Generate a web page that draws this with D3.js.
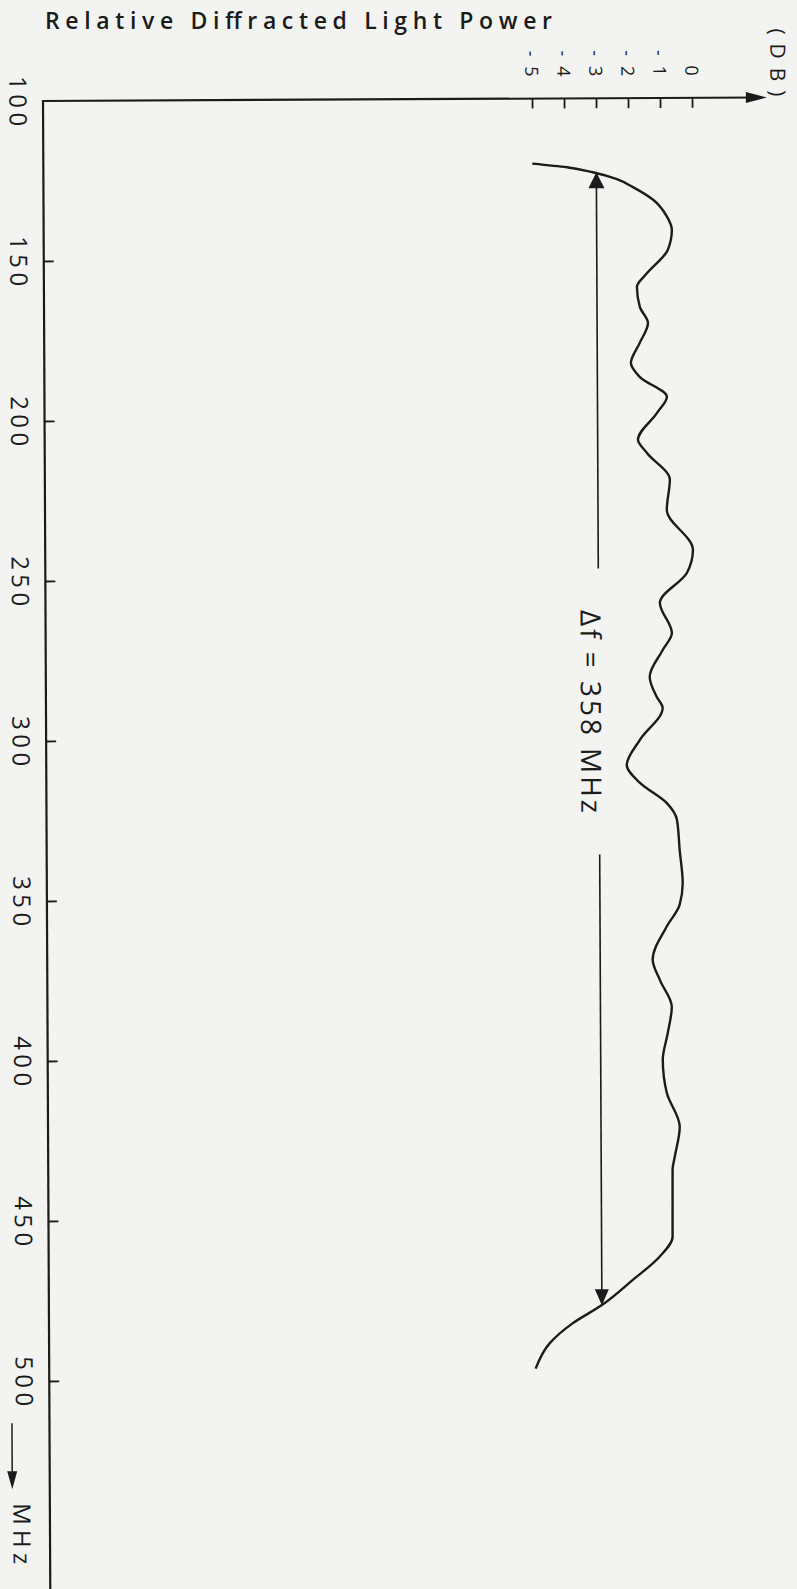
<!DOCTYPE html>
<html>
<head>
<meta charset="utf-8">
<script src="https://cdn.jsdelivr.net/npm/d3@7"></script>
<style>
  body { margin: 0; background: #f3f3f1; }
  svg { display: block; }
  text { font-family: "Open Sans", sans-serif; fill: #1b1b1b; }
</style>
</head>
<body>
<div id="chart-container"></div>
<script>

// values (frequency in MHz, power in dB)
let freq_mhz = [120.3, 121.5, 123.1, 125.3, 127.8, 131.8, 137.1, 141.2, 147.5, 154.7,
                159.0, 165.3, 170.3, 176.5, 182.8, 187.2, 193.4, 198.4, 206.8, 210.9,
                219.3, 228.7, 241.2, 248.4, 257.8, 267.2, 272.5, 280.9, 287.2, 290.6,
                300.6, 308.4, 314.0, 320.3, 325.6, 335.0, 345.3, 352.2, 359.0, 369.3,
                375.6, 384.0, 392.2, 400.6, 410.9, 421.5, 430.9, 434.9, 455.9, 462.1,
                469.3, 477.2, 482.8, 489.0, 496.9]
let power_db = [-5.00, -3.92, -3.11, -2.36, -1.86, -1.23, -0.80, -0.65, -0.78, -1.43,
                -1.75, -1.66, -1.41, -1.67, -1.95, -1.67, -0.83, -1.14, -1.74, -1.46,
                -0.75, -0.85, -0.04, -0.23, -1.08, -0.71, -1.00, -1.41, -1.19, -1.01,
                -1.73, -2.14, -1.73, -0.90, -0.58, -0.50, -0.41, -0.51, -0.92, -1.36,
                -1.14, -0.77, -0.90, -1.06, -0.94, -0.54, -0.70, -0.77, -0.78, -1.19,
                -2.03, -3.01, -3.92, -4.64, -5.08]

let freq_ticks = [100, 150, 200, 250, 300, 350, 400, 450, 500]
let db_ticks = [-5, -4, -3, -2, -1, 0]
let db_tick_labels = ["-5", "-4", "-3", "-2", "-1", "0"]

// -3 dB band marker
let band_edges_mhz = [123.1, 477.2]
let band_level_db = -3
let band_label = "Δf = 358 MHz"
let band_label_mhz = 291.6

let title_text = "Relative Diffracted Light Power"
let db_unit = "(DB)"
let freq_unit = "MHz"

let data = freq_mhz.map(function(f, i){ return {f: f, db: power_db[i]} })

let svgWidth = 797
let svgHeight = 1589
let origin = {x: 43, y: 101}
let ink = "#1b1b1b"

let x = d3.scaleLinear().domain([-5, 0]).range([532, 692])
let y = d3.scaleLinear().domain([100, 500]).range([101, 1381])

let svg = d3.select("#chart-container")
    .append("svg")
        .attr("width", svgWidth)
        .attr("height", svgHeight)

svg.append("rect")
    .attr("width", svgWidth)
    .attr("height", svgHeight)
    .attr("fill", "#f3f3f1")

//TITLE
svg.append("text")
    .attr("x", 45)
    .attr("y", 29)
    .attr("font-size", 23)
    .attr("font-weight", 600)
    .attr("textLength", 507)
    .attr("lengthAdjust", "spacing")
    .text(title_text)

// the scan is tilted a little, so the whole plot is too
let g = svg.append("g")
    .attr("transform", `rotate(-0.28, ${origin.x}, ${origin.y})`)

//FREQUENCY AXIS (vertical)
g.append("line")
    .attr("x1", origin.x).attr("x2", origin.x)
    .attr("y1", origin.y - 1).attr("y2", svgHeight + 20)
    .attr("stroke", ink)
    .attr("stroke-width", 2.2)

g.append("g")
    .attr("transform", `translate(${origin.x},0)`)
    .call(d3.axisRight(y).tickValues(freq_ticks.slice(1)).tickSize(10).tickSizeOuter(0).tickFormat(""))
    .call(function(a){ a.select(".domain").remove() })
    .selectAll("line")
        .attr("stroke", ink)
        .attr("stroke-width", 1.8)

g.selectAll(".freq-label")
    .data(freq_ticks)
    .join("text")
        .attr("class", "freq-label")
        .attr("transform", function(d){ return `translate(18,${y(d)}) rotate(90)` })
        .attr("text-anchor", "middle")
        .attr("dy", "0.36em")
        .attr("font-size", 24)
        .attr("textLength", 50)
        .attr("lengthAdjust", "spacing")
        .text(function(d){ return d })

// MHz arrow + unit
let unitTop = y(500) + 42
g.append("line")
    .attr("x1", 5.5).attr("x2", 5.5)
    .attr("y1", unitTop).attr("y2", unitTop + 52)
    .attr("stroke", ink)
    .attr("stroke-width", 1.5)
g.append("path")
    .attr("d", `M0.5,${unitTop + 48} L10.5,${unitTop + 48} L5.5,${unitTop + 66} Z`)
    .attr("fill", ink)
g.append("text")
    .attr("transform", `translate(15,${unitTop + 80}) rotate(90)`)
    .attr("dy", "0.36em")
    .attr("font-size", 24)
    .attr("textLength", 61)
    .attr("lengthAdjust", "spacing")
    .text(freq_unit)

//DB AXIS (horizontal)
let arrowTip = x(2.34)
g.append("line")
    .attr("x1", origin.x - 1).attr("x2", arrowTip - 10)
    .attr("y1", origin.y).attr("y2", origin.y)
    .attr("stroke", ink)
    .attr("stroke-width", 2.2)
g.append("path")
    .attr("d", `M${arrowTip - 21},${origin.y - 5.5} L${arrowTip},${origin.y} L${arrowTip - 21},${origin.y + 5.5} Z`)
    .attr("fill", ink)

g.append("g")
    .attr("transform", `translate(0,${origin.y})`)
    .call(d3.axisBottom(x).tickValues(db_ticks).tickSize(10).tickSizeOuter(0).tickFormat(""))
    .call(function(a){ a.select(".domain").remove() })
    .selectAll("line")
        .attr("stroke", ink)
        .attr("stroke-width", 1.8)

g.selectAll(".db-label")
    .data(db_ticks)
    .join("text")
        .attr("class", "db-label")
        .attr("transform", function(d){ return `translate(${x(d)},${origin.y - 22}) rotate(90)` })
        .attr("text-anchor", "end")
        .attr("dy", "0.36em")
        .attr("font-size", 18)
        .attr("textLength", function(d, i){ return db_tick_labels[i].length > 1 ? 26 : null })
        .attr("lengthAdjust", "spacing")
        .text(function(d, i){ return db_tick_labels[i] })

g.append("text")
    .attr("transform", `translate(778,32) rotate(90)`)
    .attr("dy", "0.36em")
    .attr("font-size", 21)
    .attr("textLength", 68)
    .attr("lengthAdjust", "spacing")
    .text(db_unit)

//RESPONSE CURVE
let line = d3.line()
    .x(function(d){ return x(d.db) })
    .y(function(d){ return y(d.f) })
    .curve(d3.curveMonotoneY)

g.append("path")
    .datum(data)
    .attr("d", line)
    .attr("fill", "none")
    .attr("stroke", ink)
    .attr("stroke-width", 2.4)
    .attr("stroke-linejoin", "round")

//BANDWIDTH MARKER
let bx = x(band_level_db)
let bTop = y(band_edges_mhz[0])
let bBot = y(band_edges_mhz[1])
let textMid = y(band_label_mhz)

g.append("line")
    .attr("x1", bx).attr("x2", bx)
    .attr("y1", bTop + 10).attr("y2", textMid - 143)
    .attr("stroke", ink).attr("stroke-width", 1.6)
g.append("line")
    .attr("x1", bx).attr("x2", bx)
    .attr("y1", textMid + 143).attr("y2", bBot - 10)
    .attr("stroke", ink).attr("stroke-width", 1.6)
g.append("path")
    .attr("d", `M${bx - 8},${bTop + 16} L${bx},${bTop} L${bx + 8},${bTop + 16} Z`)
    .attr("fill", ink)
g.append("path")
    .attr("d", `M${bx - 7},${bBot - 16} L${bx},${bBot} L${bx + 7},${bBot - 16} Z`)
    .attr("fill", ink)

g.append("text")
    .attr("transform", `translate(${bx - 8},${textMid}) rotate(90)`)
    .attr("text-anchor", "middle")
    .attr("dy", "0.36em")
    .attr("font-size", 28)
    .attr("textLength", 203)
    .attr("lengthAdjust", "spacing")
    .text(band_label)

</script>
</body>
</html>
